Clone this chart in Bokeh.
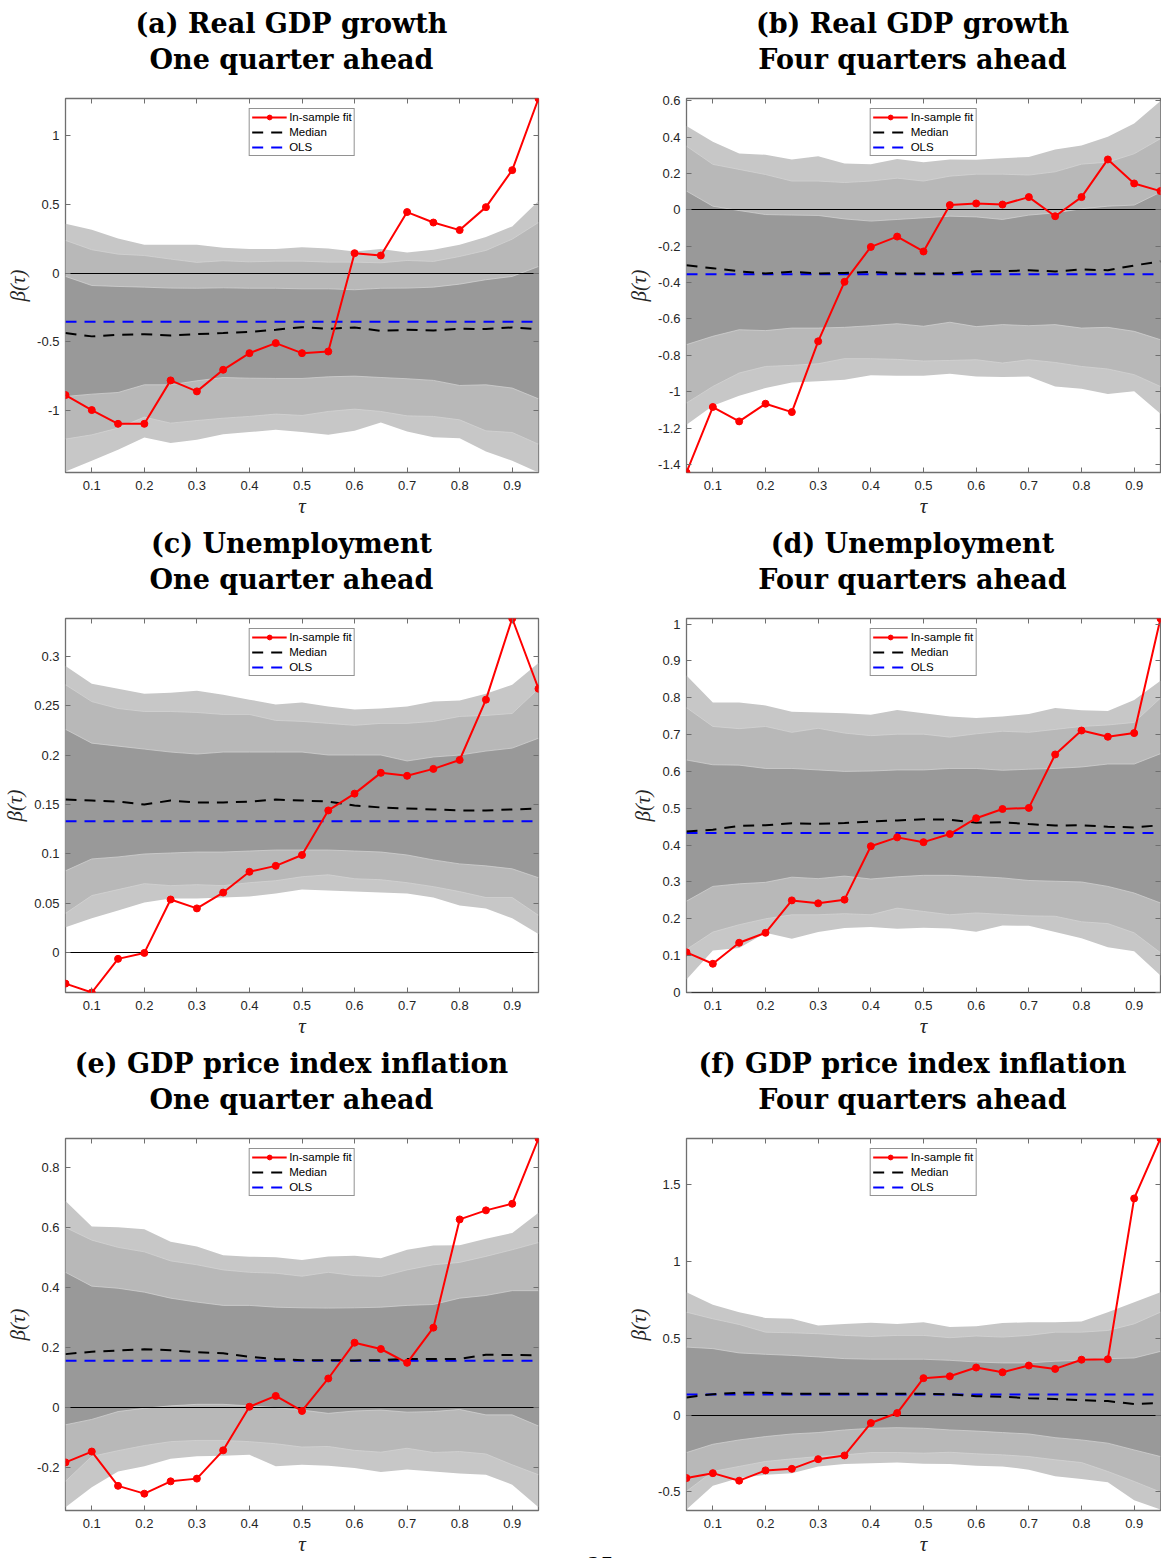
from bokeh.plotting import figure
from bokeh.layouts import gridplot
from bokeh.models import (Range1d, FixedTicker, PrintfTickFormatter, LinearAxis,
                          Legend, LegendItem, Label)
from bokeh.embed import file_html
from bokeh.resources import INLINE

# Quantile levels
tau = [0.05, 0.10, 0.15, 0.20, 0.25, 0.30, 0.35, 0.40, 0.45, 0.50,
       0.55, 0.60, 0.65, 0.70, 0.75, 0.80, 0.85, 0.90, 0.95]
x_ticks = [0.1, 0.2, 0.3, 0.4, 0.5, 0.6, 0.7, 0.8, 0.9]

# (a) Real GDP growth, one quarter ahead
a_out_hi = [0.359, 0.315, 0.252, 0.206, 0.206, 0.206, 0.184, 0.175, 0.175, 0.189, 0.179, 0.158, 0.175, 0.150, 0.170, 0.206, 0.262, 0.340, 0.524]
a_mid_hi = [0.238, 0.170, 0.138, 0.128, 0.102, 0.078, 0.090, 0.082, 0.087, 0.087, 0.080, 0.080, 0.075, 0.092, 0.085, 0.121, 0.165, 0.247, 0.368]
a_in_hi = [-0.024, -0.090, -0.097, -0.102, -0.109, -0.110, -0.107, -0.110, -0.110, -0.114, -0.114, -0.121, -0.110, -0.109, -0.102, -0.080, -0.048, -0.024, 0.048]
a_in_lo = [-0.897, -0.880, -0.868, -0.812, -0.812, -0.783, -0.759, -0.764, -0.766, -0.766, -0.754, -0.749, -0.759, -0.768, -0.780, -0.817, -0.812, -0.836, -0.914]
a_mid_lo = [-1.207, -1.176, -1.127, -1.047, -1.091, -1.072, -1.055, -1.042, -1.025, -1.035, -1.006, -0.989, -1.006, -1.038, -1.042, -1.067, -1.147, -1.159, -1.244]
a_out_lo = [-1.442, -1.365, -1.285, -1.195, -1.236, -1.212, -1.171, -1.156, -1.139, -1.156, -1.176, -1.147, -1.086, -1.152, -1.193, -1.200, -1.297, -1.365, -1.450]
a_median = [-0.436, -0.460, -0.448, -0.444, -0.453, -0.444, -0.436, -0.427, -0.412, -0.393, -0.405, -0.395, -0.420, -0.412, -0.417, -0.405, -0.407, -0.395, -0.407]
a_ols = -0.354
a_fit = [-0.887, -0.996, -1.096, -1.096, -0.780, -0.860, -0.703, -0.582, -0.509, -0.582, -0.570, 0.145, 0.128, 0.444, 0.368, 0.313, 0.480, 0.749, 1.270]
a_yticks = [-1, -0.5, 0, 0.5, 1]

# (b) Real GDP growth, four quarters ahead
b_out_hi = [0.461, 0.374, 0.310, 0.303, 0.277, 0.294, 0.255, 0.251, 0.279, 0.262, 0.277, 0.275, 0.284, 0.290, 0.332, 0.354, 0.402, 0.475, 0.598]
b_mid_hi = [0.350, 0.250, 0.222, 0.194, 0.158, 0.158, 0.150, 0.158, 0.174, 0.158, 0.185, 0.196, 0.196, 0.191, 0.209, 0.251, 0.262, 0.308, 0.391]
b_in_hi = [0.103, 0.020, -0.004, -0.026, -0.029, -0.031, -0.050, -0.062, -0.053, -0.044, -0.035, -0.039, -0.053, -0.029, -0.017, 0.006, 0.020, 0.026, 0.097]
b_in_lo = [-0.741, -0.695, -0.659, -0.664, -0.650, -0.650, -0.646, -0.637, -0.626, -0.640, -0.618, -0.642, -0.631, -0.637, -0.631, -0.650, -0.646, -0.668, -0.714]
b_mid_lo = [-1.062, -0.971, -0.897, -0.861, -0.855, -0.846, -0.818, -0.818, -0.822, -0.831, -0.828, -0.824, -0.842, -0.824, -0.839, -0.861, -0.875, -0.906, -0.971]
b_out_lo = [-1.182, -1.077, -1.022, -0.980, -0.949, -0.943, -0.934, -0.910, -0.912, -0.912, -0.901, -0.916, -0.919, -0.916, -0.971, -0.983, -1.013, -0.998, -1.121]
b_median = [-0.305, -0.321, -0.338, -0.350, -0.341, -0.350, -0.347, -0.341, -0.350, -0.350, -0.350, -0.338, -0.338, -0.332, -0.339, -0.328, -0.332, -0.306, -0.283]
b_ols = -0.354
b_fit = [-1.444, -1.084, -1.163, -1.066, -1.112, -0.723, -0.396, -0.204, -0.147, -0.229, 0.026, 0.035, 0.029, 0.070, -0.035, 0.070, 0.277, 0.145, 0.103]
b_yticks = [-1.4, -1.2, -1, -0.8, -0.6, -0.4, -0.2, 0, 0.2, 0.4, 0.6]

# (c) Unemployment, one quarter ahead
c_out_hi = [0.290, 0.272, 0.267, 0.262, 0.263, 0.265, 0.261, 0.256, 0.251, 0.253, 0.249, 0.246, 0.247, 0.249, 0.254, 0.255, 0.262, 0.271, 0.293]
c_mid_hi = [0.271, 0.254, 0.247, 0.244, 0.244, 0.243, 0.241, 0.241, 0.235, 0.234, 0.232, 0.230, 0.232, 0.232, 0.234, 0.239, 0.240, 0.242, 0.267]
c_in_hi = [0.226, 0.212, 0.209, 0.206, 0.203, 0.201, 0.203, 0.203, 0.203, 0.203, 0.200, 0.200, 0.200, 0.194, 0.198, 0.200, 0.204, 0.207, 0.217]
c_in_lo = [0.083, 0.095, 0.097, 0.100, 0.101, 0.102, 0.102, 0.103, 0.104, 0.104, 0.104, 0.103, 0.102, 0.099, 0.094, 0.090, 0.088, 0.085, 0.076]
c_mid_lo = [0.040, 0.058, 0.064, 0.070, 0.068, 0.069, 0.068, 0.071, 0.073, 0.077, 0.079, 0.075, 0.074, 0.071, 0.067, 0.062, 0.056, 0.056, 0.038]
c_out_lo = [0.026, 0.035, 0.043, 0.051, 0.055, 0.055, 0.056, 0.057, 0.060, 0.064, 0.063, 0.062, 0.061, 0.060, 0.056, 0.048, 0.045, 0.035, 0.019]
c_median = [0.155, 0.154, 0.153, 0.150, 0.154, 0.152, 0.152, 0.153, 0.155, 0.154, 0.153, 0.149, 0.147, 0.146, 0.145, 0.144, 0.144, 0.145, 0.146]
c_ols = 0.133
c_fit = [-0.031, -0.040, -0.006, 0.000, 0.054, 0.045, 0.061, 0.082, 0.088, 0.099, 0.144, 0.161, 0.182, 0.179, 0.186, 0.195, 0.256, 0.338, 0.267]
c_yticks = [0, 0.05, 0.1, 0.15, 0.2, 0.25, 0.3]

# (d) Unemployment, four quarters ahead
d_out_hi = [0.860, 0.787, 0.787, 0.779, 0.762, 0.760, 0.758, 0.754, 0.767, 0.758, 0.749, 0.745, 0.749, 0.756, 0.772, 0.766, 0.764, 0.794, 0.846]
d_mid_hi = [0.773, 0.722, 0.716, 0.722, 0.706, 0.717, 0.704, 0.697, 0.701, 0.701, 0.693, 0.702, 0.709, 0.706, 0.714, 0.722, 0.726, 0.733, 0.799]
d_in_hi = [0.631, 0.618, 0.617, 0.608, 0.608, 0.604, 0.600, 0.601, 0.604, 0.604, 0.608, 0.608, 0.603, 0.606, 0.608, 0.612, 0.620, 0.620, 0.648]
d_in_lo = [0.248, 0.288, 0.295, 0.299, 0.313, 0.309, 0.316, 0.308, 0.314, 0.318, 0.318, 0.315, 0.311, 0.304, 0.302, 0.300, 0.288, 0.270, 0.243]
d_mid_lo = [0.117, 0.164, 0.184, 0.200, 0.211, 0.211, 0.214, 0.211, 0.229, 0.220, 0.211, 0.216, 0.212, 0.208, 0.207, 0.192, 0.187, 0.162, 0.108]
d_out_lo = [0.035, 0.114, 0.121, 0.162, 0.146, 0.164, 0.175, 0.178, 0.173, 0.176, 0.174, 0.165, 0.182, 0.181, 0.164, 0.147, 0.123, 0.112, 0.046]
d_median = [0.437, 0.442, 0.452, 0.454, 0.459, 0.458, 0.460, 0.464, 0.467, 0.470, 0.469, 0.461, 0.462, 0.457, 0.453, 0.454, 0.450, 0.448, 0.454]
d_ols = 0.433
d_fit = [0.109, 0.078, 0.135, 0.162, 0.250, 0.242, 0.252, 0.397, 0.421, 0.408, 0.430, 0.473, 0.498, 0.501, 0.646, 0.711, 0.694, 0.704, 1.015]
d_yticks = [0, 0.1, 0.2, 0.3, 0.4, 0.5, 0.6, 0.7, 0.8, 0.9, 1]

# (e) GDP price index inflation, one quarter ahead
e_out_hi = [0.687, 0.602, 0.600, 0.593, 0.552, 0.536, 0.507, 0.502, 0.500, 0.491, 0.503, 0.505, 0.497, 0.525, 0.539, 0.540, 0.562, 0.581, 0.648]
e_mid_hi = [0.599, 0.557, 0.533, 0.518, 0.488, 0.475, 0.458, 0.450, 0.447, 0.437, 0.450, 0.439, 0.436, 0.458, 0.475, 0.483, 0.503, 0.525, 0.549]
e_in_hi = [0.450, 0.404, 0.397, 0.384, 0.364, 0.351, 0.340, 0.340, 0.334, 0.332, 0.331, 0.332, 0.334, 0.340, 0.343, 0.364, 0.373, 0.389, 0.389]
e_in_lo = [-0.057, -0.039, -0.013, -0.002, 0.006, 0.011, 0.011, 0.006, 0.000, -0.008, -0.019, -0.011, -0.008, -0.015, -0.013, -0.006, -0.024, -0.024, -0.061]
e_mid_lo = [-0.245, -0.162, -0.143, -0.126, -0.113, -0.109, -0.109, -0.113, -0.120, -0.131, -0.129, -0.142, -0.148, -0.135, -0.149, -0.146, -0.154, -0.190, -0.223]
e_out_lo = [-0.331, -0.265, -0.212, -0.195, -0.170, -0.162, -0.160, -0.157, -0.195, -0.190, -0.193, -0.201, -0.214, -0.206, -0.212, -0.219, -0.223, -0.256, -0.331]
e_median = [0.178, 0.186, 0.190, 0.194, 0.191, 0.184, 0.181, 0.169, 0.162, 0.158, 0.158, 0.157, 0.158, 0.162, 0.162, 0.162, 0.176, 0.175, 0.174]
e_ols = 0.156
e_fit = [-0.182, -0.146, -0.260, -0.286, -0.245, -0.236, -0.142, 0.003, 0.039, -0.011, 0.097, 0.216, 0.195, 0.149, 0.266, 0.626, 0.656, 0.678, 0.895]
e_yticks = [-0.2, 0, 0.2, 0.4, 0.6, 0.8]

# (f) GDP price index inflation, four quarters ahead
f_out_hi = [0.798, 0.718, 0.669, 0.632, 0.626, 0.583, 0.593, 0.600, 0.593, 0.604, 0.572, 0.578, 0.598, 0.604, 0.604, 0.608, 0.669, 0.734, 0.798]
f_mid_hi = [0.669, 0.626, 0.589, 0.539, 0.535, 0.529, 0.518, 0.511, 0.518, 0.518, 0.503, 0.514, 0.507, 0.518, 0.539, 0.539, 0.550, 0.593, 0.669]
f_in_hi = [0.442, 0.432, 0.404, 0.395, 0.388, 0.378, 0.367, 0.363, 0.363, 0.363, 0.356, 0.345, 0.339, 0.339, 0.350, 0.356, 0.367, 0.371, 0.414]
f_in_lo = [-0.244, -0.190, -0.162, -0.140, -0.123, -0.114, -0.097, -0.086, -0.082, -0.086, -0.097, -0.104, -0.114, -0.123, -0.147, -0.162, -0.183, -0.227, -0.270]
f_mid_lo = [-0.496, -0.367, -0.334, -0.302, -0.285, -0.270, -0.259, -0.244, -0.244, -0.248, -0.242, -0.252, -0.259, -0.270, -0.291, -0.309, -0.367, -0.432, -0.501]
f_out_lo = [-0.615, -0.460, -0.410, -0.388, -0.378, -0.334, -0.319, -0.313, -0.309, -0.317, -0.319, -0.330, -0.334, -0.356, -0.399, -0.416, -0.438, -0.555, -0.615]
f_median = [0.114, 0.136, 0.145, 0.145, 0.138, 0.138, 0.138, 0.138, 0.138, 0.138, 0.134, 0.123, 0.119, 0.110, 0.104, 0.097, 0.091, 0.071, 0.078]
f_ols = 0.134
f_fit = [-0.410, -0.378, -0.427, -0.360, -0.350, -0.287, -0.263, -0.052, 0.013, 0.240, 0.252, 0.309, 0.278, 0.322, 0.300, 0.360, 0.363, 1.409, 1.799]
f_yticks = [-0.5, 0, 0.5, 1, 1.5]

panels = [
    dict(title=("(a) Real GDP growth", "One quarter ahead"), ylim=(-1.45, 1.27), yticks=a_yticks,
         bands=(a_out_lo, a_out_hi, a_mid_lo, a_mid_hi, a_in_lo, a_in_hi), median=a_median, ols=a_ols, fit=a_fit),
    dict(title=("(b) Real GDP growth", "Four quarters ahead"), ylim=(-1.444, 0.612), yticks=b_yticks,
         bands=(b_out_lo, b_out_hi, b_mid_lo, b_mid_hi, b_in_lo, b_in_hi), median=b_median, ols=b_ols, fit=b_fit),
    dict(title=("(c) Unemployment", "One quarter ahead"), ylim=(-0.040, 0.338), yticks=c_yticks,
         bands=(c_out_lo, c_out_hi, c_mid_lo, c_mid_hi, c_in_lo, c_in_hi), median=c_median, ols=c_ols, fit=c_fit),
    dict(title=("(d) Unemployment", "Four quarters ahead"), ylim=(0.0, 1.015), yticks=d_yticks,
         bands=(d_out_lo, d_out_hi, d_mid_lo, d_mid_hi, d_in_lo, d_in_hi), median=d_median, ols=d_ols, fit=d_fit),
    dict(title=("(e) GDP price index inflation", "One quarter ahead"), ylim=(-0.342, 0.895), yticks=e_yticks,
         bands=(e_out_lo, e_out_hi, e_mid_lo, e_mid_hi, e_in_lo, e_in_hi), median=e_median, ols=e_ols, fit=e_fit),
    dict(title=("(f) GDP price index inflation", "Four quarters ahead"), ylim=(-0.621, 1.799), yticks=f_yticks,
         bands=(f_out_lo, f_out_hi, f_mid_lo, f_mid_hi, f_in_lo, f_in_hi), median=f_median, ols=f_ols, fit=f_fit),
]

FRAME = "#6f6f6f"
TEXT = "#262626"
BAND_COLORS = ("#c7c7c7", "#b8b8b8", "#999999")
SEAM = "#d6d6d6"


def style_axis(ax, ticks, with_labels):
    ax.ticker = FixedTicker(ticks=ticks)
    ax.axis_line_color = None
    ax.major_tick_in = 5
    ax.major_tick_out = 0
    ax.major_tick_line_color = FRAME
    ax.major_tick_line_width = 1
    ax.minor_tick_line_color = None
    if with_labels:
        ax.formatter = PrintfTickFormatter(format="%g")
        ax.major_label_text_font = "Liberation Sans"
        ax.major_label_text_font_size = "13px"
        ax.major_label_text_color = TEXT
    else:
        ax.major_label_text_font_size = "0px"
        ax.major_label_text_color = None
        ax.major_label_standoff = 0


def build(spec, col, row):
    width = 622 if col == 0 else 539
    height = 518 if row == 2 else 520
    p = figure(width=width, height=height, output_backend="svg", toolbar_location=None,
               title=None, x_range=Range1d(0.05, 0.95), y_range=Range1d(*spec["ylim"]),
               min_border_left=64, min_border_right=(84 if col == 0 else 1),
               min_border_top=98, min_border_bottom=height - 98 - 374)
    p.grid.visible = False
    p.outline_line_color = FRAME
    p.outline_line_width = 1.3
    p.background_fill_color = "white"
    p.border_fill_color = "white"

    out_lo, out_hi, mid_lo, mid_hi, in_lo, in_hi = spec["bands"]
    for (lo, hi), color in zip(((out_lo, out_hi), (mid_lo, mid_hi), (in_lo, in_hi)), BAND_COLORS):
        p.varea(x=tau, y1=lo, y2=hi, fill_color=color)
    for edge in (mid_lo, mid_hi, in_lo, in_hi):
        p.line(tau, edge, line_color=SEAM, line_width=0.7)

    p.hspan(y=0, line_color="black", line_width=1)

    r_ols = p.line(tau, [spec["ols"]] * len(tau), line_color="#0000ff", line_width=2, line_dash="11 8")
    r_med = p.line(tau, spec["median"], line_color="black", line_width=2, line_dash="11 8")
    r_fit = p.line(tau, spec["fit"], line_color="#ff0000", line_width=2)
    r_pts = p.scatter(tau, spec["fit"], size=7, marker="circle", fill_color="#ff0000", line_color="#ff0000")

    legend = Legend(items=[LegendItem(label="In-sample fit", renderers=[r_fit, r_pts]),
                           LegendItem(label="Median", renderers=[r_med]),
                           LegendItem(label="OLS", renderers=[r_ols])],
                    location="top_center", margin=10, padding=2, spacing=3,
                    glyph_width=35, glyph_height=12, label_height=12, label_standoff=3,
                    label_text_font="Liberation Sans", label_text_font_size="11.5px",
                    label_text_color="black", border_line_color=TEXT, border_line_width=1,
                    background_fill_color="white", background_fill_alpha=1)
    p.add_layout(legend)

    style_axis(p.xaxis[0], x_ticks, True)
    style_axis(p.yaxis[0], spec["yticks"], True)
    p.xaxis[0].major_label_standoff = 8
    p.yaxis[0].major_label_standoff = 6
    p.xaxis[0].axis_label = "τ"
    p.yaxis[0].axis_label = "β(τ)"
    for ax in (p.xaxis[0], p.yaxis[0]):
        ax.axis_label_text_font = "Liberation Serif"
        ax.axis_label_text_font_style = "italic"
        ax.axis_label_text_font_size = "21px"
        ax.axis_label_text_color = TEXT
    p.xaxis[0].axis_label_standoff = 1
    p.yaxis[0].axis_label_standoff = 4

    top = LinearAxis()
    style_axis(top, x_ticks, False)
    p.add_layout(top, "above")
    right = LinearAxis()
    style_axis(right, spec["yticks"], False)
    p.add_layout(right, "right")

    # two-line panel heading, placed in the band above the frame
    for text, rise in zip(spec["title"], (75, 8)):
        p.add_layout(Label(x=226, y=rise, x_units="screen", y_units="screen", text=text,
                           text_align="center", text_baseline="alphabetic",
                           text_font="DejaVu Serif", text_font_style="bold",
                           text_font_size="27px", text_color="black"), "above")
    return p


figs = [build(spec, i % 2, i // 2) for i, spec in enumerate(panels)]

# page number at the foot of the sheet, beside the lower-left panel
figs[4].add_layout(Label(x=62, y=-55, x_units="screen", y_units="screen", text="25",
                         text_align="center", text_baseline="alphabetic",
                         text_font="Liberation Serif", text_font_size="26px",
                         text_color="black"), "right")

grid = gridplot([[figs[0], figs[1]], [figs[2], figs[3]], [figs[4], figs[5]]], toolbar_location=None)

open("out.html", "w").write(file_html(grid, INLINE))
